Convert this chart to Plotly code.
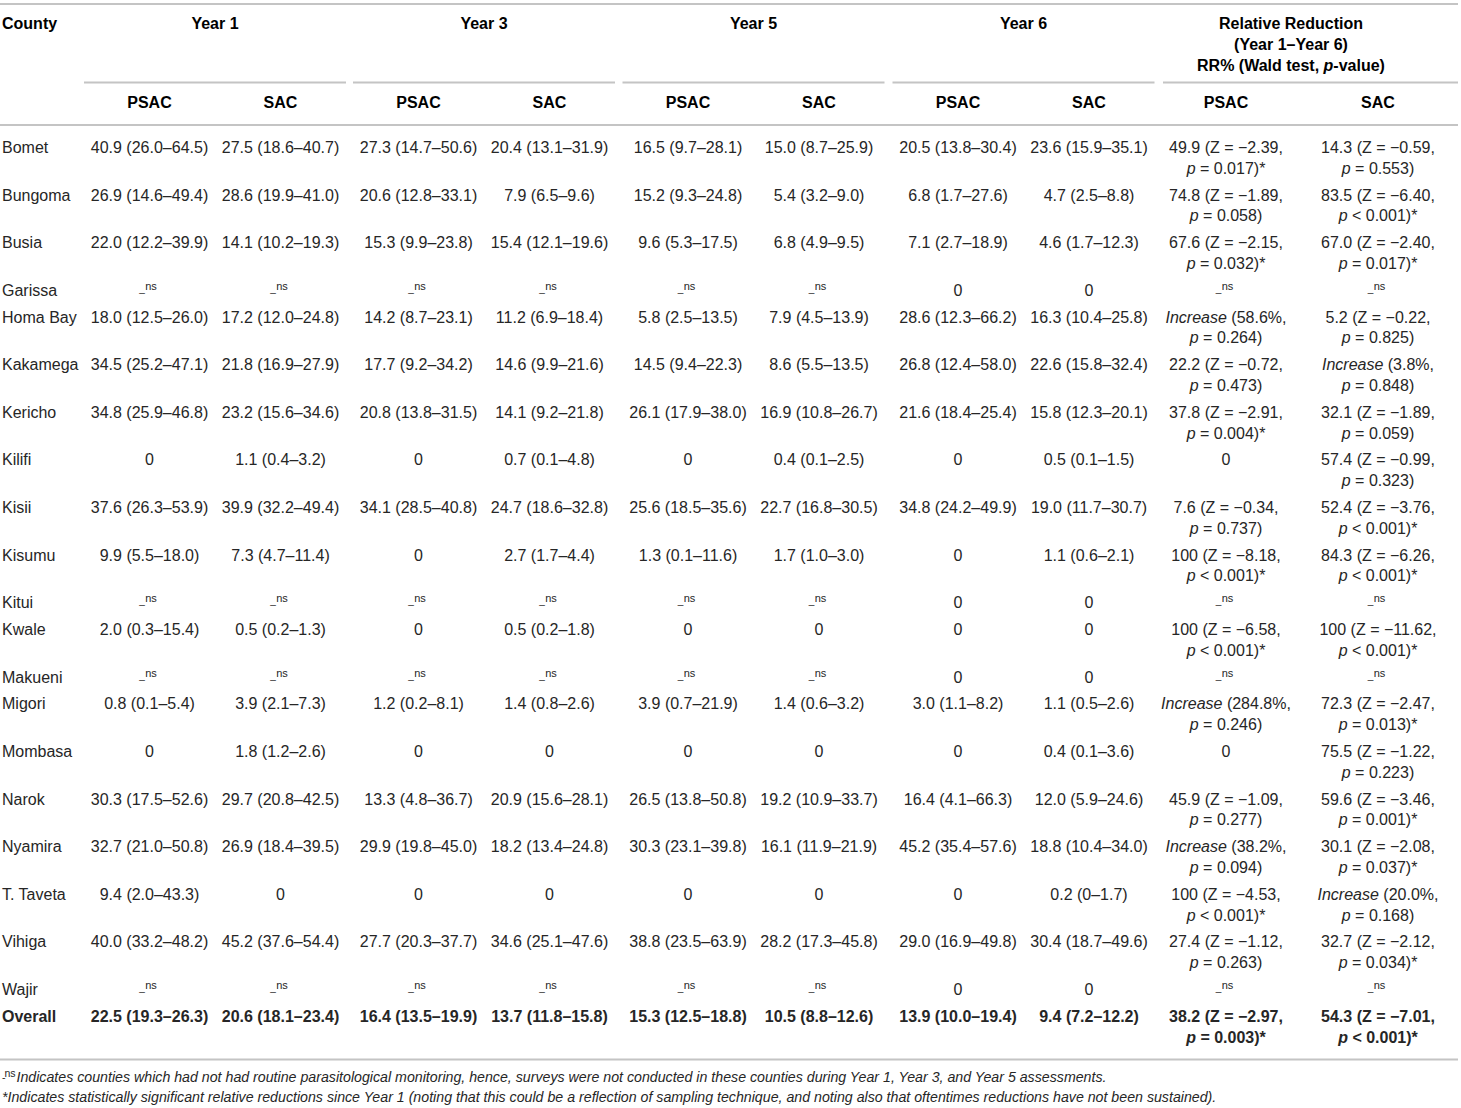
import plotly.graph_objects as go

# ---------------- data ----------------
counties = ["Bomet", "Bungoma", "Busia", "Garissa", "Homa Bay", "Kakamega", "Kericho",
            "Kilifi", "Kisii", "Kisumu", "Kitui", "Kwale", "Makueni", "Migori", "Mombasa",
            "Narok", "Nyamira", "T. Taveta", "Vihiga", "Wajir", "Overall"]

year_groups = ["Year 1", "Year 3", "Year 5", "Year 6"]
sub_labels = ["PSAC", "SAC"]
county_label = "County"
rr_header = ["Relative Reduction", "(Year 1–Year 6)", "RR% (Wald test, p-value)"]
ns_mark = "ns"

# None = survey not conducted (-ns)
y1_psac = ["40.9 (26.0–64.5)", "26.9 (14.6–49.4)", "22.0 (12.2–39.9)", None, "18.0 (12.5–26.0)",
           "34.5 (25.2–47.1)", "34.8 (25.9–46.8)", "0", "37.6 (26.3–53.9)", "9.9 (5.5–18.0)", None,
           "2.0 (0.3–15.4)", None, "0.8 (0.1–5.4)", "0", "30.3 (17.5–52.6)", "32.7 (21.0–50.8)",
           "9.4 (2.0–43.3)", "40.0 (33.2–48.2)", None, "22.5 (19.3–26.3)"]
y1_sac = ["27.5 (18.6–40.7)", "28.6 (19.9–41.0)", "14.1 (10.2–19.3)", None, "17.2 (12.0–24.8)",
          "21.8 (16.9–27.9)", "23.2 (15.6–34.6)", "1.1 (0.4–3.2)", "39.9 (32.2–49.4)", "7.3 (4.7–11.4)", None,
          "0.5 (0.2–1.3)", None, "3.9 (2.1–7.3)", "1.8 (1.2–2.6)", "29.7 (20.8–42.5)", "26.9 (18.4–39.5)",
          "0", "45.2 (37.6–54.4)", None, "20.6 (18.1–23.4)"]
y3_psac = ["27.3 (14.7–50.6)", "20.6 (12.8–33.1)", "15.3 (9.9–23.8)", None, "14.2 (8.7–23.1)",
           "17.7 (9.2–34.2)", "20.8 (13.8–31.5)", "0", "34.1 (28.5–40.8)", "0", None,
           "0", None, "1.2 (0.2–8.1)", "0", "13.3 (4.8–36.7)", "29.9 (19.8–45.0)",
           "0", "27.7 (20.3–37.7)", None, "16.4 (13.5–19.9)"]
y3_sac = ["20.4 (13.1–31.9)", "7.9 (6.5–9.6)", "15.4 (12.1–19.6)", None, "11.2 (6.9–18.4)",
          "14.6 (9.9–21.6)", "14.1 (9.2–21.8)", "0.7 (0.1–4.8)", "24.7 (18.6–32.8)", "2.7 (1.7–4.4)", None,
          "0.5 (0.2–1.8)", None, "1.4 (0.8–2.6)", "0", "20.9 (15.6–28.1)", "18.2 (13.4–24.8)",
          "0", "34.6 (25.1–47.6)", None, "13.7 (11.8–15.8)"]
y5_psac = ["16.5 (9.7–28.1)", "15.2 (9.3–24.8)", "9.6 (5.3–17.5)", None, "5.8 (2.5–13.5)",
           "14.5 (9.4–22.3)", "26.1 (17.9–38.0)", "0", "25.6 (18.5–35.6)", "1.3 (0.1–11.6)", None,
           "0", None, "3.9 (0.7–21.9)", "0", "26.5 (13.8–50.8)", "30.3 (23.1–39.8)",
           "0", "38.8 (23.5–63.9)", None, "15.3 (12.5–18.8)"]
y5_sac = ["15.0 (8.7–25.9)", "5.4 (3.2–9.0)", "6.8 (4.9–9.5)", None, "7.9 (4.5–13.9)",
          "8.6 (5.5–13.5)", "16.9 (10.8–26.7)", "0.4 (0.1–2.5)", "22.7 (16.8–30.5)", "1.7 (1.0–3.0)", None,
          "0", None, "1.4 (0.6–3.2)", "0", "19.2 (10.9–33.7)", "16.1 (11.9–21.9)",
          "0", "28.2 (17.3–45.8)", None, "10.5 (8.8–12.6)"]
y6_psac = ["20.5 (13.8–30.4)", "6.8 (1.7–27.6)", "7.1 (2.7–18.9)", "0", "28.6 (12.3–66.2)",
           "26.8 (12.4–58.0)", "21.6 (18.4–25.4)", "0", "34.8 (24.2–49.9)", "0", "0",
           "0", "0", "3.0 (1.1–8.2)", "0", "16.4 (4.1–66.3)", "45.2 (35.4–57.6)",
           "0", "29.0 (16.9–49.8)", "0", "13.9 (10.0–19.4)"]
y6_sac = ["23.6 (15.9–35.1)", "4.7 (2.5–8.8)", "4.6 (1.7–12.3)", "0", "16.3 (10.4–25.8)",
          "22.6 (15.8–32.4)", "15.8 (12.3–20.1)", "0.5 (0.1–1.5)", "19.0 (11.7–30.7)", "1.1 (0.6–2.1)", "0",
          "0", "0", "1.1 (0.5–2.6)", "0.4 (0.1–3.6)", "12.0 (5.9–24.6)", "18.8 (10.4–34.0)",
          "0.2 (0–1.7)", "30.4 (18.7–49.6)", "0", "9.4 (7.2–12.2)"]
rr_psac = ["49.9 (Z = −2.39, p = 0.017)*", "74.8 (Z = −1.89, p = 0.058)", "67.6 (Z = −2.15, p = 0.032)*",
           None, "Increase (58.6%, p = 0.264)", "22.2 (Z = −0.72, p = 0.473)",
           "37.8 (Z = −2.91, p = 0.004)*", "0", "7.6 (Z = −0.34, p = 0.737)",
           "100 (Z = −8.18, p < 0.001)*", None, "100 (Z = −6.58, p < 0.001)*", None,
           "Increase (284.8%, p = 0.246)", "0", "45.9 (Z = −1.09, p = 0.277)",
           "Increase (38.2%, p = 0.094)", "100 (Z = −4.53, p < 0.001)*",
           "27.4 (Z = −1.12, p = 0.263)", None, "38.2 (Z = −2.97, p = 0.003)*"]
rr_sac = ["14.3 (Z = −0.59, p = 0.553)", "83.5 (Z = −6.40, p < 0.001)*", "67.0 (Z = −2.40, p = 0.017)*",
          None, "5.2 (Z = −0.22, p = 0.825)", "Increase (3.8%, p = 0.848)",
          "32.1 (Z = −1.89, p = 0.059)", "57.4 (Z = −0.99, p = 0.323)", "52.4 (Z = −3.76, p < 0.001)*",
          "84.3 (Z = −6.26, p < 0.001)*", None, "100 (Z = −11.62, p < 0.001)*", None,
          "72.3 (Z = −2.47, p = 0.013)*", "75.5 (Z = −1.22, p = 0.223)", "59.6 (Z = −3.46, p = 0.001)*",
          "30.1 (Z = −2.08, p = 0.037)*", "Increase (20.0%, p = 0.168)",
          "32.7 (Z = −2.12, p = 0.034)*", None, "54.3 (Z = −7.01, p < 0.001)*"]

footnote_ns = ("Indicates counties which had not had routine parasitological monitoring, hence, surveys "
               "were not conducted in these counties during Year 1, Year 3, and Year 5 assessments.")
footnote_sig = ("*Indicates statistically significant relative reductions since Year 1 (noting that this "
                "could be a reflection of sampling technique, and noting also that oftentimes reductions "
                "have not been sustained).")

# ---------------- layout constants ----------------
W, H = 1461, 1108
FONT = "Liberation Sans, Arial, Helvetica, sans-serif"
FS = 16
FN_FS = 14.2
LH = FS * 1.3
PAD = 6
TXT = "#262626"
RULE = "#c4c4c4"

group_centers = [215, 484, 753.5, 1023.5]
half_group = 131
sub_offset = 65.5
rr_cols = [1226, 1378]
rr_center = 1291
rr_line = (1163, 1458)
county_x = 2
body_top = 135.6
header_y = 24.5
rr_header_ys = [24.5, 45.5, 66.5]
sub_y = 104
footnote_ys = [1078.5, 1098.5]

# ---------------- helpers ----------------
def esc(s):
    return s.replace("<", "&lt;")

def fmt_val(v):
    return [None if v is None else esc(v)]

def fmt_rr(v):
    if v is None:
        return [None]
    s = v.replace("Increase", "<i>Increase</i>")
    if ", p " in s:
        a, b = s.split(", p ", 1)
        return [a + ",", "<i>p</i> " + esc(b)]
    return [s]

value_cols = [y1_psac, y1_sac, y3_psac, y3_sac, y5_psac, y5_sac, y6_psac, y6_sac]
col_x = []
for gc in group_centers:
    col_x += [gc - sub_offset, gc + sub_offset]

cells = [[fmt_val(v) for v in col] for col in value_cols]
cells += [[fmt_rr(v) for v in rr_psac], [fmt_rr(v) for v in rr_sac]]
all_x = col_x + rr_cols

n = len(counties)
last = n - 1
row_lines = [max(len(c[i]) for c in cells) for i in range(n)]
row_tops = []
t = body_top
for k in row_lines:
    row_tops.append(t)
    t += k * LH + PAD

def line_y(i, j):
    return row_tops[i] + PAD / 2 + LH / 2 + j * LH

def wrap(s, i):
    return f"<b>{s}</b>" if i == last else s

fig = go.Figure()

# county column
fig.add_trace(go.Scatter(
    x=[county_x] * n, y=[line_y(i, 0) for i in range(n)],
    text=[wrap(c, i) for i, c in enumerate(counties)], mode="text", textposition="middle right",
    textfont=dict(family=FONT, size=FS, color=TXT), hoverinfo="skip"))

# value columns (each text line is its own point); collect not-surveyed marks
ns_x, ns_y = [], []
for cx, col in zip(all_x, cells):
    xs, ys, ts = [], [], []
    for i, lines in enumerate(col):
        for j, ln in enumerate(lines):
            if ln is None:
                ns_x.append(cx)
                ns_y.append(line_y(i, j))
                continue
            xs.append(cx)
            ys.append(line_y(i, j))
            ts.append(wrap(ln, i))
    fig.add_trace(go.Scatter(
        x=xs, y=ys, text=ts, mode="text", textposition="middle center",
        textfont=dict(family=FONT, size=FS, color=TXT), hoverinfo="skip"))

# "-ns" marks: low dash + raised small "ns"
fig.add_trace(go.Scatter(
    x=[x - 7.5 for x in ns_x], y=[y - 2.5 for y in ns_y], text=["_"] * len(ns_x),
    mode="text", textposition="middle center",
    textfont=dict(family=FONT, size=10, color=TXT), hoverinfo="skip"))
fig.add_trace(go.Scatter(
    x=[x + 1.5 for x in ns_x], y=[y - 4.5 for y in ns_y], text=[ns_mark] * len(ns_x),
    mode="text", textposition="middle center",
    textfont=dict(family=FONT, size=11, color=TXT), hoverinfo="skip"))

# headers
hdr_font = dict(family=FONT, size=FS, color="#000")
fig.add_trace(go.Scatter(
    x=[county_x], y=[header_y], text=[f"<b>{county_label}</b>"], mode="text",
    textposition="middle right", textfont=hdr_font, hoverinfo="skip"))
fig.add_trace(go.Scatter(
    x=group_centers, y=[header_y] * len(group_centers), text=[f"<b>{g}</b>" for g in year_groups],
    mode="text", textposition="middle center", textfont=hdr_font, hoverinfo="skip"))
fig.add_trace(go.Scatter(
    x=[rr_center] * len(rr_header), y=rr_header_ys,
    text=["<b>" + h.replace("p-value", "<i>p</i>-value") + "</b>" for h in rr_header],
    mode="text", textposition="middle center", textfont=hdr_font, hoverinfo="skip"))
fig.add_trace(go.Scatter(
    x=all_x, y=[sub_y] * len(all_x), text=[f"<b>{sub_labels[i % 2]}</b>" for i in range(len(all_x))],
    mode="text", textposition="middle center", textfont=hdr_font, hoverinfo="skip"))

# footnotes
fig.add_trace(go.Scatter(
    x=[county_x, 4.5], y=[footnote_ys[0], footnote_ys[0] - 4.5], text=["-", ns_mark],
    mode="text", textposition="middle right",
    textfont=dict(family=FONT, size=10.5, color=TXT), hoverinfo="skip"))
fig.add_trace(go.Scatter(
    x=[16.5, county_x], y=footnote_ys,
    text=["<i>" + footnote_ns + "</i>", "<i>" + footnote_sig + "</i>"],
    mode="text", textposition="middle right",
    textfont=dict(family=FONT, size=FN_FS, color=TXT), hoverinfo="skip"))

# rules
shapes = [dict(type="line", x0=0, x1=1458, y0=4, y1=4)]
for gc in group_centers:
    shapes.append(dict(type="line", x0=gc - half_group, x1=gc + half_group, y0=82.5, y1=82.5))
shapes.append(dict(type="line", x0=rr_line[0], x1=rr_line[1], y0=82.5, y1=82.5))
shapes.append(dict(type="line", x0=0, x1=1458, y0=125, y1=125))
shapes.append(dict(type="line", x0=0, x1=1458, y0=1059.5, y1=1059.5))
for s in shapes:
    s.update(xref="x", yref="y", line=dict(color=RULE, width=2), layer="below")

fig.update_layout(
    width=W, height=H, margin=dict(l=0, r=0, t=0, b=0),
    paper_bgcolor="white", plot_bgcolor="white", showlegend=False,
    xaxis=dict(range=[0, W], visible=False, fixedrange=True),
    yaxis=dict(range=[H, 0], visible=False, fixedrange=True),
    shapes=shapes)

fig.write_html("out.html", config={"displayModeBar": False},
               post_script="document.body.style.margin='0';")
